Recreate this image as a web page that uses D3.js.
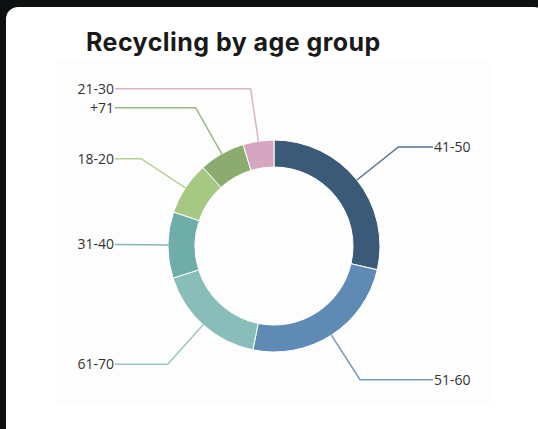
<!DOCTYPE html>
<html>
<head>
<meta charset="utf-8">
<script src="https://cdn.jsdelivr.net/npm/d3@7/dist/d3.min.js"></script>
<style>
  html, body { margin: 0; padding: 0; background: #0d1112; }
  svg { display: block; }
</style>
</head>
<body>
<div id="chart"></div>
<script>
// Share of recycling by age group (percent)
const categories = ["41-50", "51-60", "61-70", "31-40", "18-20", "+71", "21-30"];
const values = [28.6, 24.6, 16.9, 10.1, 8.1, 7.0, 4.7];
const colors = ["#3b5a78", "#5f8ab4", "#89bdb9", "#6fada8", "#a6c883", "#8bab71", "#d5a6c0"];
const title = "Recycling by age group";

const W = 538, H = 429;
const cx = 274, cy = 246;
const outerR = 106, innerR = 79, labelR = 159;

const svg = d3.select("#chart").append("svg")
  .attr("width", W).attr("height", H);

// page background and card
svg.append("rect").attr("width", W).attr("height", H).attr("fill", "#0d1112");
svg.append("rect")
  .attr("x", 6).attr("y", 7).attr("width", 540).attr("height", 440)
  .attr("rx", 12).attr("fill", "#ffffff");
svg.append("rect")
  .attr("x", 55).attr("y", 60).attr("width", 436).attr("height", 345)
  .attr("fill", "#fdfdfd");

svg.append("text")
  .attr("x", 86).attr("y", 51)
  .attr("font-family", "Inter, 'Open Sans', sans-serif")
  .attr("font-weight", 700)
  .attr("font-size", 25)
  .attr("letter-spacing", 0.45)
  .attr("fill", "#1a1a1a")
  .text(title);

const data = categories.map((c, i) => ({ label: c, value: values[i], color: colors[i] }));

const pie = d3.pie().value(d => d.value).sort(null);
const arcs = pie(data);

const arc = d3.arc().innerRadius(innerR).outerRadius(outerR);
const edgeArc = d3.arc().innerRadius(outerR).outerRadius(outerR);
const outerArc = d3.arc().innerRadius(labelR).outerRadius(labelR);

const g = svg.append("g").attr("transform", `translate(${cx},${cy})`);

g.selectAll("path.slice")
  .data(arcs)
  .join("path")
  .attr("class", "slice")
  .attr("d", arc)
  .attr("fill", d => d.data.color)
  .attr("stroke", "#ffffff")
  .attr("stroke-width", 1);

const mid = d => d.startAngle + (d.endAngle - d.startAngle) / 2;
const side = d => (mid(d) < Math.PI ? 1 : -1);

g.selectAll("polyline")
  .data(arcs)
  .join("polyline")
  .attr("points", d => {
    const a = edgeArc.centroid(d);
    const b = outerArc.centroid(d);
    const c = [labelR * side(d), b[1]];
    return [a, b, c];
  })
  .attr("fill", "none")
  .attr("stroke", d => d.data.color)
  .attr("stroke-opacity", 0.85)
  .attr("stroke-width", 1.5);

g.selectAll("text.lbl")
  .data(arcs)
  .join("text")
  .attr("class", "lbl")
  .attr("x", d => (labelR + 1) * side(d))
  .attr("y", d => outerArc.centroid(d)[1])
  .attr("dy", "0.35em")
  .attr("text-anchor", d => (side(d) > 0 ? "start" : "end"))
  .attr("font-family", "'Open Sans', sans-serif")
  .attr("font-size", 14)
  .attr("fill", "#333333")
  .text(d => d.data.label);
</script>
</body>
</html>
